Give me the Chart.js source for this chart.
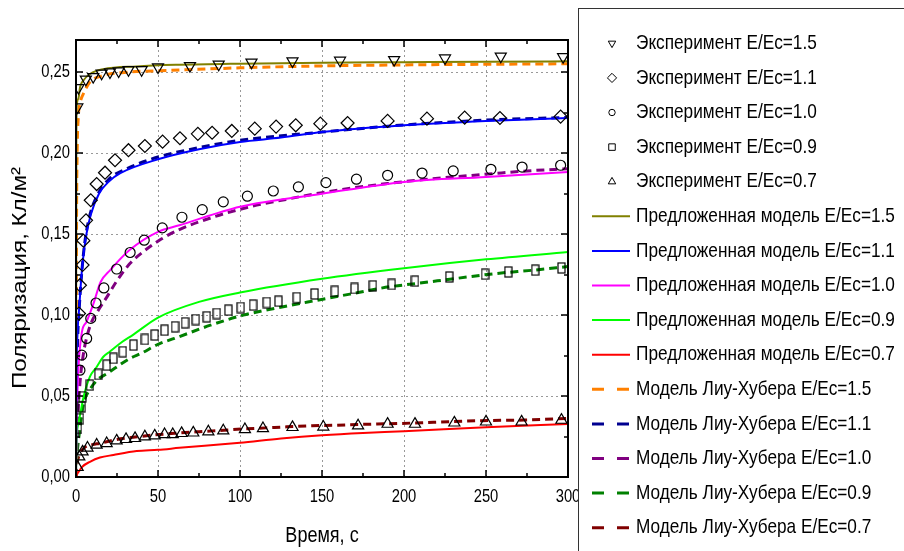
<!DOCTYPE html>
<html><head><meta charset="utf-8">
<script src="https://cdn.jsdelivr.net/npm/chart.js@4.4.1/dist/chart.umd.min.js"></script>
<style>html,body{margin:0;padding:0;background:#fff}</style>
</head><body>
<canvas id="c" width="904" height="551"></canvas>
<script>
const FONT = '"Liberation Sans", Arial, sans-serif';
const NARROW = 0.82;   // condensed look of the original typeface

// ---- axis ----
const xMin = 0, xMax = 300, xStep = 50;
const yMin = 0, yMax = 0.27, yStep = 0.05;
const xTitle = 'Время, с';
const yTitle = 'Поляризация, Кл/м²';

// ---- legend labels ----
const labels = [
  'Эксперимент E/Ec=1.5', 'Эксперимент E/Ec=1.1', 'Эксперимент E/Ec=1.0',
  'Эксперимент E/Ec=0.9', 'Эксперимент E/Ec=0.7',
  'Предложенная модель E/Ec=1.5', 'Предложенная модель E/Ec=1.1',
  'Предложенная модель E/Ec=1.0', 'Предложенная модель E/Ec=0.9',
  'Предложенная модель E/Ec=0.7',
  'Модель Лиу-Хубера E/Ec=1.5', 'Модель Лиу-Хубера E/Ec=1.1',
  'Модель Лиу-Хубера E/Ec=1.0', 'Модель Лиу-Хубера E/Ec=0.9',
  'Модель Лиу-Хубера E/Ec=0.7'
];

// ---- experiment points ----
const expT15 = [0.8, 1.5, 6, 10.5, 15.6, 20.7, 26, 32, 40, 50, 69.5, 87, 107, 132, 161, 194, 225, 259, 297];
const expV15 = [0.2285, 0.2405, 0.2457, 0.2473, 0.2494, 0.2502, 0.2508, 0.2516, 0.2516, 0.2533, 0.2541, 0.255, 0.2562, 0.257, 0.2574, 0.2578, 0.2588, 0.2599, 0.2596];

const expT11 = [1.8, 2.4, 4, 4.5, 6.1, 9, 12.6, 17.7, 23.8, 32, 42, 52.8, 63.4, 74.3, 83, 95, 109, 122, 134, 149, 165.6, 190, 214, 237, 258.5, 295.5];
const expV11 = [0.101, 0.1185, 0.131, 0.146, 0.1586, 0.171, 0.181, 0.188, 0.1957, 0.2019, 0.2045, 0.2072, 0.2093, 0.212, 0.2127, 0.2138, 0.2152, 0.2165, 0.2173, 0.2183, 0.2187, 0.22, 0.2214, 0.222, 0.2218, 0.2227];

const expT10 = [2.4, 3.5, 6.5, 9, 12.2, 17, 24.8, 33, 41.6, 52.6, 64.6, 77, 89.8, 104.5, 120.3, 135.6, 152.4, 171, 190, 211, 230, 253, 272, 295.5];
const expV10 = [0.066, 0.0753, 0.0856, 0.098, 0.1075, 0.1168, 0.1285, 0.1387, 0.1463, 0.1539, 0.1605, 0.1652, 0.17, 0.1735, 0.1767, 0.1792, 0.1819, 0.184, 0.1864, 0.1878, 0.1891, 0.1901, 0.1915, 0.1926];

const expT09 = [1.2, 2.4, 3.5, 4, 8.5, 13.6, 18.7, 22.8, 28.5, 35, 42, 48, 54, 60.4, 66.5, 73, 79.7, 85.8, 92.9, 100.4, 108, 116.3, 123.4, 134.6, 145.5, 157.8, 169.8, 181, 192.5, 206.7, 227.6, 249.4, 263.6, 280, 296];
const expV09 = [0.03, 0.036, 0.0434, 0.0496, 0.0568, 0.0634, 0.0691, 0.0733, 0.0774, 0.0815, 0.085, 0.0877, 0.0907, 0.0928, 0.0953, 0.0973, 0.099, 0.101, 0.1031, 0.1047, 0.1062, 0.1078, 0.1086, 0.1108, 0.1131, 0.1147, 0.1165, 0.1181, 0.119, 0.121, 0.1236, 0.1253, 0.1267, 0.1278, 0.1292];

const expT07 = [1, 2, 4, 7, 12.6, 18.7, 24.8, 30.5, 36, 42, 48, 54, 59, 64.4, 71.5, 80.7, 89.8, 103, 114, 132, 150.8, 172, 190, 206.7, 230.7, 250, 271.7, 296];
const expV07 = [0.006, 0.0125, 0.0156, 0.018, 0.0198, 0.0208, 0.0224, 0.0233, 0.0239, 0.0249, 0.0255, 0.0263, 0.0263, 0.027, 0.0273, 0.028, 0.0286, 0.0294, 0.03, 0.0307, 0.031, 0.0317, 0.0327, 0.0327, 0.0335, 0.0341, 0.0341, 0.0352];

// ---- proposed model (solid) ----
const propT15 = [0, 0.2, 0.4, 1.4, 2.5, 4.5, 8.5, 16.7, 37, 63, 100, 150, 200, 250, 300];
const propV15 = [0, 0.2, 0.2286, 0.2337, 0.241, 0.245, 0.249, 0.252, 0.2537, 0.2547, 0.2554, 0.256, 0.2563, 0.2566, 0.2568];

const propT11 = [0, 0.3, 1, 2, 3, 4, 6, 9, 14, 20, 27, 50, 75, 100, 125, 150, 200, 250, 300];
const propV11 = [0, 0.06, 0.09, 0.105, 0.12, 0.132, 0.148, 0.162, 0.175, 0.1825, 0.1877, 0.1963, 0.2025, 0.207, 0.2097, 0.2131, 0.2173, 0.22, 0.2218];

const propT10 = [0, 0.3, 0.8, 1.4, 3.5, 6.5, 10.6, 15, 21, 33, 50, 63, 100, 150, 200, 250, 300];
const propV10 = [0, 0.035, 0.05, 0.066, 0.089, 0.096, 0.107, 0.1205, 0.128, 0.1405, 0.1515, 0.1555, 0.167, 0.175, 0.1823, 0.1854, 0.1885];

const propT09 = [0, 0.4, 1.4, 2.4, 4.5, 8.5, 12.6, 16.7, 20.7, 26.8, 35, 50, 75, 100, 150, 200, 250, 300];
const propV09 = [0, 0.022, 0.033, 0.038, 0.049, 0.062, 0.068, 0.0743, 0.0775, 0.0825, 0.088, 0.0985, 0.1082, 0.114, 0.1225, 0.129, 0.1345, 0.139];

const propT07 = [0, 0.5, 1.4, 2.4, 4, 8.5, 14.6, 22.8, 37, 50, 63, 100, 125, 150, 175, 200, 250, 300];
const propV07 = [0, 0.0015, 0.003, 0.0043, 0.0065, 0.0094, 0.012, 0.0136, 0.016, 0.0168, 0.018, 0.0212, 0.0238, 0.0258, 0.0272, 0.0282, 0.0308, 0.0327];

// ---- Liu-Huber model (dashed) ----
const lhT15 = [0, 0.3, 0.7, 1.4, 2.5, 4.5, 8.5, 16.7, 33, 57, 100, 150, 200, 250, 300];
const lhV15 = [0, 0.15, 0.2, 0.2224, 0.231, 0.2368, 0.244, 0.248, 0.2502, 0.2512, 0.2528, 0.254, 0.2546, 0.255, 0.2553];

const lhT11 = [0, 0.3, 1, 2, 3, 5, 8, 12, 20, 30, 50, 75, 100, 150, 200, 250, 300];
const lhV11 = [0, 0.05, 0.085, 0.105, 0.12, 0.142, 0.16, 0.172, 0.184, 0.19, 0.1977, 0.2035, 0.208, 0.2131, 0.2175, 0.2205, 0.2222];

const lhT10 = [0, 0.5, 1, 2.4, 4.5, 7, 9.6, 13.6, 18.7, 24.8, 33, 42, 52, 63, 85, 105, 128, 149, 170, 190, 212, 254, 275, 300];
const lhV10 = [0, 0.02, 0.035, 0.058, 0.076, 0.088, 0.096, 0.103, 0.111, 0.121, 0.132, 0.14, 0.147, 0.1529, 0.161, 0.1667, 0.1715, 0.1755, 0.1788, 0.1813, 0.1838, 0.1874, 0.1891, 0.1905];

const lhT09 = [0, 0.5, 1.2, 2.4, 4.5, 8.5, 13, 19, 33, 40, 50, 60, 82, 102, 124, 146, 167, 191, 208, 232, 256, 279, 300];
const lhV09 = [0, 0.012, 0.02, 0.03, 0.045, 0.054, 0.06, 0.064, 0.0733, 0.0765, 0.082, 0.0856, 0.0938, 0.1, 0.1047, 0.109, 0.113, 0.1175, 0.1196, 0.1227, 0.1257, 0.1278, 0.13];

const lhT07 = [0, 0.5, 1.2, 2.4, 5.5, 10, 14.6, 24.8, 36, 48, 60, 75, 90, 101, 121, 144, 159, 174, 198, 218, 247, 273, 300];
const lhV07 = [0, 0.007, 0.011, 0.0146, 0.0185, 0.02, 0.0208, 0.0232, 0.0247, 0.026, 0.027, 0.028, 0.0289, 0.0296, 0.0306, 0.0317, 0.032, 0.0325, 0.0331, 0.0338, 0.0348, 0.0352, 0.0362];

const pts = (t, v) => t.map((x, i) => ({x: x, y: v[i]}));

// tall open rectangle marker used by the original for E/Ec=0.9
function rectMarker(w, h) {
  const cv = document.createElement('canvas');
  cv.width = w + 2; cv.height = h + 2;
  const g = cv.getContext('2d');
  g.strokeStyle = '#000'; g.lineWidth = 1.2;
  g.strokeRect(1, 1, w, h);
  return cv;
}
const tallRect = rectMarker(7, 10);

function markerDs(label, t, v, style, radius, rotation, legend) {
  return {label, data: pts(t, v), showLine: false, pointStyle: style, pointRadius: radius,
    pointRotation: rotation, pointBorderColor: '#000', pointBackgroundColor: 'rgba(0,0,0,0)',
    pointBorderWidth: 1.2, borderColor: '#000', legend};
}
function lineDs(label, t, v, color, dash) {
  return {label, data: pts(t, v), borderColor: color, backgroundColor: color,
    borderWidth: dash ? 3 : 2, borderDash: dash || [], pointRadius: 0,
    cubicInterpolationMode: 'monotone', fill: false};
}

const datasets = [
  markerDs(labels[0], expT15, expV15, 'triangle', 6.4, 180, {style: 'triangle', r: 4.3}),
  markerDs(labels[1], expT11, expV11, 'rectRot', 6.5, 0, {style: 'rectRot', r: 4.6}),
  markerDs(labels[2], expT10, expV10, 'circle', 5, 0, {style: 'circle', r: 3.2}),
  markerDs(labels[3], expT09, expV09, tallRect, 6, 0, {style: 'rect', r: 4.6}),
  markerDs(labels[4], expT07, expV07, 'triangle', 6.4, 0, {style: 'triangle', r: 4.3}),
  lineDs(labels[5], propT15, propV15, '#808000'),
  lineDs(labels[6], propT11, propV11, '#0000ff'),
  lineDs(labels[7], propT10, propV10, '#ff00ff'),
  lineDs(labels[8], propT09, propV09, '#00ff00'),
  lineDs(labels[9], propT07, propV07, '#ff0000'),
  lineDs(labels[10], lhT15, lhV15, '#ff8000', [8, 5]),
  lineDs(labels[11], lhT11, lhV11, '#000090', [8, 5]),
  lineDs(labels[12], lhT10, lhV10, '#800080', [8, 5]),
  lineDs(labels[13], lhT09, lhV09, '#008000', [8, 5]),
  lineDs(labels[14], lhT07, lhV07, '#800000', [8, 5])
];

function nText(c, text, x, y, size, align, baseline, angle, sx) {
  c.save();
  c.font = size + 'px ' + FONT;
  c.fillStyle = '#000';
  c.textAlign = align; c.textBaseline = baseline;
  c.translate(x, y);
  if (angle) c.rotate(angle);
  c.scale(sx || NARROW, 1);
  c.fillText(text, 0, 0);
  c.restore();
}

const bgPlugin = {
  id: 'bg',
  beforeDraw(chart) {
    const c = chart.ctx; c.save(); c.fillStyle = '#fff';
    c.fillRect(0, 0, chart.width, chart.height); c.restore();
  }
};

const fmtY = v => v.toFixed(2).replace('.', ',');

const framePlugin = {
  id: 'frame',
  afterDatasetsDraw(chart) {
    const c = chart.ctx, a = chart.chartArea;
    const xs = chart.scales.x, ys = chart.scales.y;
    c.save();
    c.strokeStyle = '#000'; c.lineWidth = 2;
    c.strokeRect(a.left, a.top, a.right - a.left, a.bottom - a.top);
    c.lineWidth = 1.5;
    c.beginPath();
    for (let v = xMin; v <= xMax + 1e-9; v += xStep / 2) {
      const px = Math.round(xs.getPixelForValue(v));
      const len = (Math.abs(v / xStep - Math.round(v / xStep)) < 1e-6) ? 7 : 4;
      c.moveTo(px, a.bottom); c.lineTo(px, a.bottom - len);
      c.moveTo(px, a.top); c.lineTo(px, a.top + len);
    }
    for (let v = yMin; v <= yMax + 1e-9; v += yStep / 2) {
      const py = Math.round(ys.getPixelForValue(v));
      const len = (Math.abs(v / yStep - Math.round(v / yStep)) < 1e-6) ? 7 : 4;
      c.moveTo(a.left, py); c.lineTo(a.left + len, py);
      c.moveTo(a.right, py); c.lineTo(a.right - len, py);
    }
    c.stroke();
    c.restore();
    // tick labels from the scales' own ticks
    ys.ticks.forEach(t => nText(c, fmtY(t.value), a.left - 6, ys.getPixelForValue(t.value), 18, 'right', 'middle'));
    xs.ticks.forEach(t => nText(c, String(t.value), xs.getPixelForValue(t.value), a.bottom + 20, 18, 'center', 'middle'));
    // axis titles
    nText(c, xTitle, (a.left + a.right) / 2, 535.5, 22, 'center', 'middle');
    c.save();
    c.font = '20px ' + FONT;
    const w = c.measureText(yTitle).width;
    c.restore();
    nText(c, yTitle, 20, 278, 20, 'center', 'middle', -Math.PI / 2, 222 / w);
  }
};

const legendPlugin = {
  id: 'boxLegend',
  afterDraw(chart) {
    const c = chart.ctx;
    c.save();
    c.fillStyle = '#fff';
    c.fillRect(578, 8, 400, 600);
    c.strokeStyle = '#333'; c.lineWidth = 1;
    c.strokeRect(578.5, 8.5, 400, 600);
    chart.data.datasets.forEach((ds, i) => {
      const y = 43.3 + 34.6 * i;
      if (ds.showLine === false) {
        c.strokeStyle = '#000'; c.fillStyle = 'rgba(0,0,0,0)'; c.lineWidth = 1;
        Chart.helpers.drawPoint(c, {pointStyle: ds.legend.style, radius: ds.legend.r,
          rotation: ds.pointRotation || 0, borderWidth: 1}, 612, y);
      } else {
        c.strokeStyle = ds.borderColor; c.lineWidth = ds.borderDash.length ? 3 : 2;
        c.setLineDash(ds.borderDash.length ? [12, 13] : []);
        c.beginPath(); c.moveTo(592, y); c.lineTo(630, y); c.stroke();
        c.setLineDash([]);
      }
      nText(c, ds.label, 636, y, 21, 'left', 'middle');
    });
    c.restore();
  }
};

new Chart(document.getElementById('c'), {
  type: 'line',
  data: {datasets},
  plugins: [bgPlugin, framePlugin, legendPlugin],
  options: {
    responsive: false, animation: false, devicePixelRatio: 1,
    layout: {padding: {left: 0, top: 40, right: 336, bottom: 0}},
    plugins: {legend: {display: false}, tooltip: {enabled: false}},
    scales: {
      x: {
        type: 'linear', min: xMin, max: xMax,
        afterFit(s) { s.height = 74; },
        ticks: {stepSize: xStep, display: false},
        grid: {color: '#999', drawTicks: false, lineWidth: 1},
        border: {display: false, dash: [2, 3]}
      },
      y: {
        type: 'linear', min: yMin, max: yMax,
        afterFit(s) { s.width = 76; },
        ticks: {stepSize: yStep, includeBounds: false, display: false},
        grid: {color: '#999', drawTicks: false, lineWidth: 1},
        border: {display: false, dash: [2, 3]}
      }
    }
  }
});
</script>
</body></html>
